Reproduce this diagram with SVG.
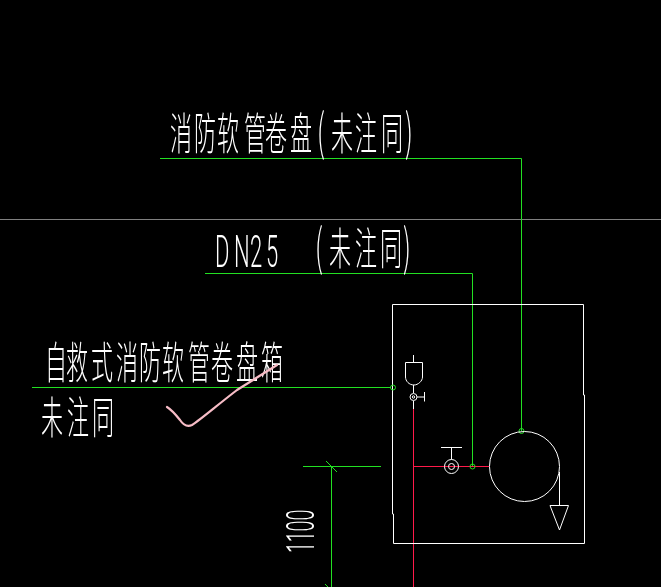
<svg xmlns="http://www.w3.org/2000/svg" width="661" height="587" viewBox="0 0 661 587">
<style>
.w{fill:none;stroke:#fff;stroke-width:1}
.g{fill:none;stroke:#22e022;stroke-width:1}
.r{fill:none;stroke:#ff1a4a;stroke-width:1}
.lbl{filter:grayscale(1)}
.t{font-family:"Noto Sans CJK SC","Liberation Sans",sans-serif;font-weight:300;font-size:22px;fill:#fff}
.p{font-size:25px}
.n{font-family:Roboto,"Liberation Sans",sans-serif;font-weight:300;font-size:44px;fill:#fff}
</style>
<rect width="661" height="587" fill="#000"/>
<g id="connectors">
<path d="M0 219.5H661" fill="none" stroke="#808080"/>
<path class="g" d="M160 158.5H521.5V431M205 273.5H472.5V466M32 387.5H391M303 466.5H381M331.5 466.5V587M326 461l11 11M325 584l6 6"/>
<path class="r" d="M413.5 409V587M413.5 466.5H489"/>
</g>
<g id="cabinet"><path class="w" d="M392.5 304.5H583.5V395H584.5V543.5H393.5V514H392.5Z"/></g>
<g id="anchor-1"><circle class="g" cx="393" cy="387.5" r="2.5"/></g>
<g id="anchor-2"><circle class="g" cx="472.5" cy="466.5" r="2.5"/></g>
<g id="anchor-3"><circle class="g" cx="521.5" cy="431" r="2.5"/></g>
<g id="hydrant">
<path class="w" d="M413.5 355V362.5M405.5 362.5H422.5V377C422.5 381 418 385 414 385C409 385 405.5 381 405.5 377Z"/>
<path class="w" d="M413.5 385V393M413.5 401V409M417 397H424.5M424.5 392V401.5"/>
<circle class="w" cx="413.5" cy="397" r="3.5"/>
<circle class="w" cx="413.5" cy="397" r="1.2"/>
</g>
<g id="valve">
<circle class="w" cx="451.5" cy="466.5" r="7"/>
<circle class="w" cx="451.5" cy="466.5" r="3"/>
<path class="w" d="M451.5 459.5V447.5M441 447.5H462"/>
</g>
<g id="reel">
<circle class="w" cx="524.5" cy="466.5" r="35"/>
<path class="w" d="M559.5 472V505.5M550 505.5H568.5L559.5 530Z"/>
</g>
<g id="label-hose" class="lbl">
<text class="t" transform="translate(0 150) scale(1 2)" x="170 194 217 244 265 290 317 331 355 381 405">消防软管卷盘<tspan class="p">(</tspan>未注同<tspan class="p">)</tspan></text>
</g>
<g id="label-dn25" class="lbl">
<text class="n" transform="translate(215 266.7) scale(.5 1)" x="0 38 70 102">DN25</text>
<text class="t" transform="translate(0 265) scale(1 2)" x="315 329 355 380 403"><tspan class="p">(</tspan>未注同<tspan class="p">)</tspan></text>
</g>
<g id="label-cabinet" class="lbl">
<text class="t" transform="translate(0 379) scale(1 2)" x="45 66 91 116 139 162 188 211 236 261">自救式消防软管卷盘箱</text>
<text class="t" transform="translate(0 434) scale(1 2)" x="41 67 92">未注同</text>
</g>
<g id="label-height" class="lbl">
<text class="n" transform="translate(314 553) rotate(-90) scale(.45 .88)" x="0 24 48 72">1100</text>
</g>
<path id="check-mark" d="M167 407C172 410 176 415 180 420C184 426 188 427 192 425C200 420 215 407 237 390C245 385 253 380 277 365" fill="none" stroke="#f7bcc6" stroke-width="2.2" stroke-linejoin="round" stroke-linecap="round"/>
</svg>
